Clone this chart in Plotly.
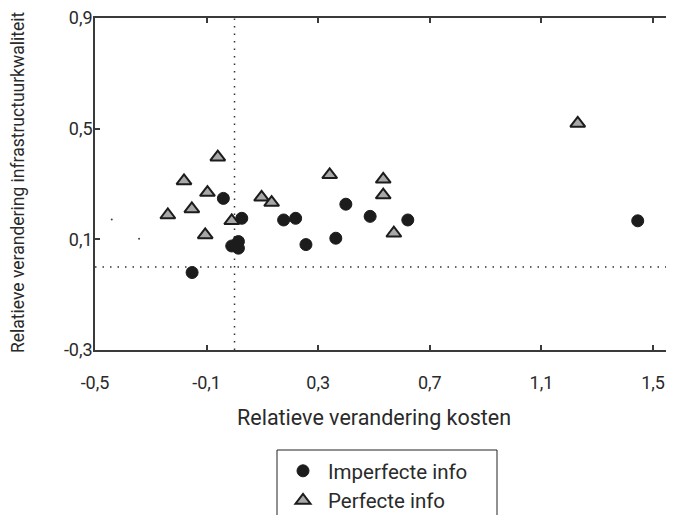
import plotly.graph_objects as go

# Data
imp_x = [-0.040, 0.026, -0.010, 0.014, 0.014, 0.176, 0.219, 0.256, 0.363, 0.399, 0.486, 0.621, -0.152, 1.445]
imp_y = [0.248, 0.176, 0.076, 0.092, 0.068, 0.170, 0.176, 0.081, 0.104, 0.227, 0.183, 0.170, -0.020, 0.167]

perf_x = [-0.060, -0.181, -0.097, -0.153, -0.239, -0.105, -0.010, 0.097, 0.133, 0.341, 0.533, 0.533, 0.571, 1.230]
perf_y = [0.397, 0.311, 0.269, 0.210, 0.188, 0.116, 0.167, 0.252, 0.233, 0.333, 0.317, 0.260, 0.122, 0.519]

stray_x = [-0.440, -0.342]
stray_y = [0.172, 0.102]

x_tickvals = [-0.5, -0.1, 0.3, 0.7, 1.1, 1.5]
x_ticktext = ["-0,5", "-0,1", "0,3", "0,7", "1,1", "1,5"]
y_tickvals = [-0.3, 0.1, 0.5, 0.9]
y_ticktext = ["-0,3", "0,1", "0,5", "0,9"]

font_family = "Roboto"
txt_color = "#2a2a2a"
axis_color = "#3a3a3a"

# page body has an 8px margin; plot area spans x 95..674, y 18..350 on the page
OFF = 8
PL, PR, PT, PB = 95, 674, 18, 350


def px_x(X):
    return (X - PL) / (PR - PL)


def px_y(Y):
    return (PB - Y) / (PB - PT)


fig = go.Figure()

fig.add_trace(go.Scatter(
    x=stray_x, y=stray_y, mode="markers", showlegend=False,
    marker=dict(size=2, color="#444"), hoverinfo="skip"))

fig.add_trace(go.Scatter(
    x=imp_x, y=imp_y, mode="markers", name="Imperfecte info",
    legendgroup="a",
    marker=dict(symbol="circle", size=12, color="#1c1c1c",
                line=dict(color="#1c1c1c", width=1))))

fig.add_trace(go.Scatter(
    x=perf_x, y=perf_y, mode="markers", name="Perfecte info",
    legendgroup="b",
    marker=dict(symbol="triangle-up", size=13, color="#a8a8a8",
                line=dict(color="#1c1c1c", width=2))))

dot_line = dict(color="#333", width=1.5, dash="1.5px,6px")
fig.add_shape(type="line", xref="x", yref="paper", x0=0, x1=0, y0=0, y1=1, line=dot_line, layer="below")
fig.add_shape(type="line", xref="paper", yref="y", x0=0, x1=1, y0=0, y1=0, line=dot_line, layer="below")

# legend frame
fig.add_shape(type="rect", xref="paper", yref="paper",
              x0=px_x(277), x1=px_x(497), y0=px_y(450), y1=px_y(540),
              line=dict(color="#222", width=1), fillcolor="rgba(0,0,0,0)")

fig.add_annotation(text="Relatieve verandering kosten", xref="paper", yref="paper",
                   x=px_x(374), y=px_y(418), showarrow=False,
                   xanchor="center", yanchor="middle",
                   font=dict(family=font_family, size=21.5, color=txt_color))
fig.add_annotation(text="Relatieve verandering infrastructuurkwaliteit", xref="paper", yref="paper",
                   x=px_x(18), y=px_y(183), showarrow=False, textangle=-90,
                   xanchor="center", yanchor="middle",
                   font=dict(family=font_family, size=17.5, color=txt_color))

fig.update_layout(
    width=674 - OFF, height=515 - OFF,
    margin=dict(l=PL - OFF, r=0, t=PT - OFF, b=515 - PB, autoexpand=False),
    paper_bgcolor="white", plot_bgcolor="white",
    font=dict(family=font_family, size=18, color=txt_color),
    showlegend=True,
    legend=dict(x=px_x(278), y=px_y(451), xanchor="left", yanchor="top",
                bgcolor="rgba(0,0,0,0)", borderwidth=0, traceorder="grouped",
                tracegroupgap=0, itemwidth=40,
                font=dict(family=font_family, size=20.5, color=txt_color)),
    xaxis=dict(range=[-0.5, 1.575], tickvals=x_tickvals, ticktext=x_ticktext,
               showgrid=False, zeroline=False, showline=True, linecolor=axis_color,
               linewidth=1.5, mirror="ticks", ticks="inside", ticklen=5, tickcolor=axis_color,
               tickwidth=1.5, ticklabelstandoff=16, automargin=False,
               ticklabeloverflow="allow",
               tickfont=dict(family=font_family, size=18, color=txt_color)),
    yaxis=dict(range=[-0.3, 0.9], tickvals=y_tickvals, ticktext=y_ticktext,
               showgrid=False, zeroline=False, showline=True, linecolor=axis_color,
               linewidth=1.5, mirror=False, ticks="inside", ticklen=5, tickcolor=axis_color,
               tickwidth=1.5, ticklabelstandoff=-3, automargin=False,
               ticklabeloverflow="allow",
               tickfont=dict(family=font_family, size=18, color=txt_color)),
)

fig.write_html("out.html")
